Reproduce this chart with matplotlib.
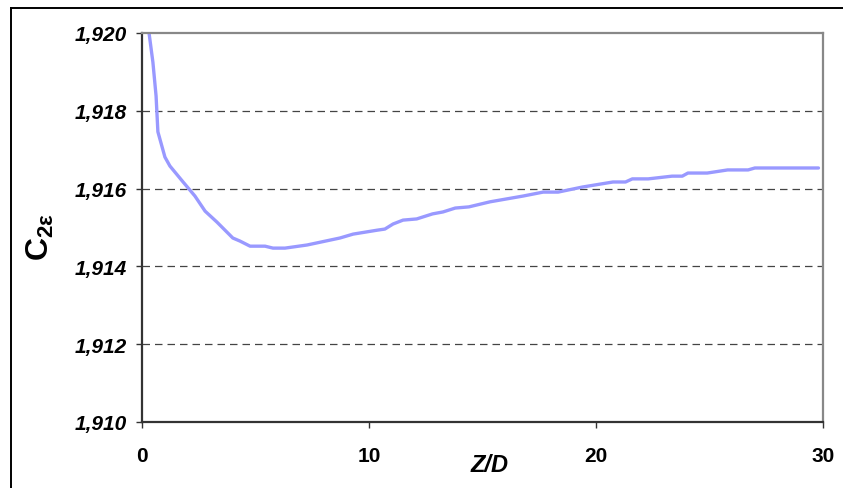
import matplotlib
matplotlib.use('Agg')
import matplotlib.pyplot as plt
from matplotlib.lines import Line2D
from matplotlib.ticker import FuncFormatter

# Datos
z_d = [0.31, 0.48, 0.62, 0.70, 1.01, 1.23, 1.81, 2.33, 2.78, 3.30, 4.00, 4.32,
       4.76, 5.42, 5.77, 6.30, 7.27, 8.72, 9.30, 10.35, 10.70, 11.06, 11.50,
       12.10, 12.80, 13.26, 13.80, 14.40, 15.33, 16.80, 17.67, 18.33, 19.40,
       20.75, 21.30, 21.60, 22.30, 23.35, 23.80, 24.05, 24.90, 25.80, 26.70,
       27.00, 29.80]
c2e = [1.92000, 1.91925, 1.91838, 1.91746, 1.91681, 1.91658, 1.91617, 1.91581,
       1.91542, 1.91514, 1.91473, 1.91465, 1.91452, 1.91452, 1.91447, 1.91447,
       1.91455, 1.91473, 1.91483, 1.91493, 1.91496, 1.91509, 1.91519, 1.91522,
       1.91535, 1.91540, 1.91550, 1.91553, 1.91566, 1.91581, 1.91591, 1.91591,
       1.91604, 1.91617, 1.91617, 1.91625, 1.91625, 1.91632, 1.91632, 1.91640,
       1.91640, 1.91648, 1.91648, 1.91653, 1.91653]

x_ticks = [0, 10, 20, 30]
y_ticks = [1.910, 1.912, 1.914, 1.916, 1.918, 1.920]

W, H = 843, 489
fig = plt.figure(figsize=(W / 100, H / 100), dpi=100)
ax = fig.add_axes([142 / W, 1 - 423 / H, (823 - 142) / W, (423 - 34) / H])

ax.plot(z_d, c2e, color='#9999FF', lw=2.4, solid_joinstyle='round',
        solid_capstyle='round', clip_on=True)

ax.set_xlim(0, 30)
ax.set_ylim(1.910, 1.920)
ax.set_xticks(x_ticks)
ax.set_yticks(y_ticks)
ax.yaxis.set_major_formatter(FuncFormatter(lambda v, p: f'{v:.3f}'.replace('.', ',')))

# lineas de rejilla discontinuas
for yv in y_ticks[1:-1]:
    ax.axhline(yv, color='#444444', lw=0.9, ls=(0, (6, 4)), zorder=0)

for s in ['top', 'right']:
    ax.spines[s].set_color('#888888')
    ax.spines[s].set_linewidth(1.6)
for s in ['left', 'bottom']:
    ax.spines[s].set_color('#333333')
    ax.spines[s].set_linewidth(1.6)

ax.tick_params(axis='y', direction='out', length=4, width=1, color='#333333', pad=7)
ax.tick_params(axis='x', direction='out', length=4.5, width=1, color='#333333', pad=13)
for t in ax.get_yticklabels():
    t.set_fontfamily('Liberation Sans')
    t.set_fontweight('bold')
    t.set_fontstyle('italic')
    t.set_fontsize(15)
for t in ax.get_xticklabels():
    t.set_fontfamily('Liberation Sans')
    t.set_fontweight('bold')
    t.set_fontsize(15)

# titulos de ejes
fig.text(490 / W, 1 - 466 / H, 'Z/D', family='Liberation Sans', weight='bold',
         style='italic', fontsize=17, ha='center', va='center')
plt.rcParams['mathtext.fontset'] = 'custom'
plt.rcParams['mathtext.it'] = 'Liberation Sans:bold:italic'
plt.rcParams['mathtext.rm'] = 'Liberation Sans:bold'
fig.text(40 / W, 1 - 237 / H, r'$\mathrm{C}_{\mathrm{2ε}}$', fontsize=23,
         rotation=90, ha='center', va='center')

# marco exterior
fig.add_artist(Line2D([11 / W, 1], [1 - 9 / H, 1 - 9 / H], color='black', lw=1.4,
                      transform=fig.transFigure))
fig.add_artist(Line2D([11 / W, 11 / W], [0, 1 - 9 / H], color='black', lw=1.4,
                      transform=fig.transFigure))

fig.savefig('out.png', dpi=100)
